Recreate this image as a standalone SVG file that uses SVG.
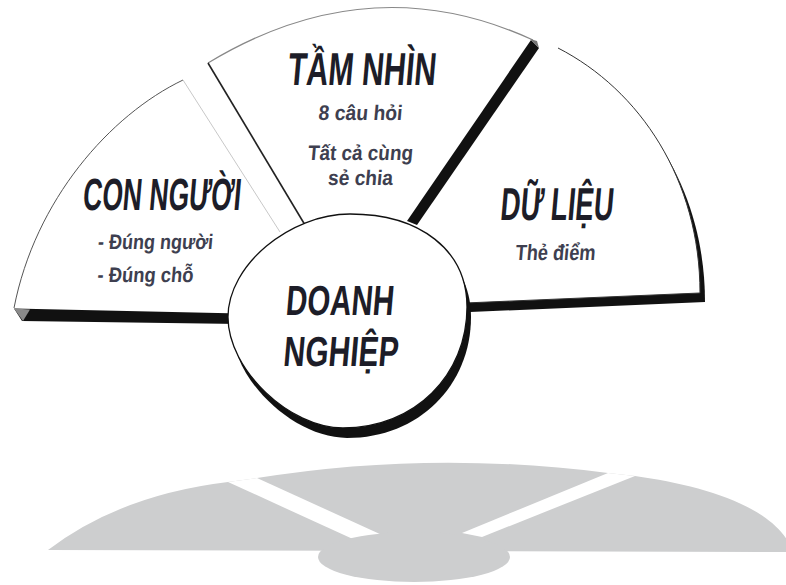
<svg xmlns="http://www.w3.org/2000/svg" width="786" height="585" viewBox="0 0 786 585">
<style>
.t{font-family:"Liberation Sans",Arial,sans-serif;font-weight:bold;fill:#1d1d28;text-anchor:middle}
.s{font-family:"Liberation Sans",Arial,sans-serif;font-weight:bold;fill:#3e3f50;text-anchor:middle}
.w{fill:#fff;stroke:none}
.k{fill:#111}
.g{fill:#cdcecf}
</style>
<defs>
<path id="dl" d="M558,48 C640,90 700,180 700,293 L465,303 L435,235 Z"/>
<path id="dn" d="M350,214 C420,214 467,250 467,307 C467,375 415,428 343,428 C290,428 228,370 228,317 C228,265 290,214 350,214 Z"/>
</defs>
<rect width="786" height="585" fill="#fff"/>
<g id="shadow">
 <path class="g" d="M48,550 Q120,495 228,482 L257,478 Q430,450 608,473 L635,476 C700,485 770,505 790,545 L790,552 L48,550 Z"/>
 <polygon fill="#fff" points="228,482 257,478 382,535 355,540"/>
 <polygon fill="#fff" points="608,473 635,476 482,537 462,533"/>
 <ellipse class="g" cx="414" cy="557" rx="96" ry="25"/>
</g>
<g id="connectors"/>
<g id="node-con-nguoi">
 <path class="w" d="M183,80 C110,115 35,200 14,308 L240,313 L300,290 L280,232 Z"/>
 <polygon class="k" points="14,308.5 240,313.5 240,324 22,321"/>
 <polygon fill="#8a8a8a" points="14,308.5 30,309.5 23,321"/>
 <path d="M183,80 C110,115 35,200 14,308" fill="none" stroke="#555" stroke-width="1"/>
 <path d="M183,80 L280,232" stroke="#c8c8c8" stroke-width="1"/>
 <text class="t" transform="translate(161,210) skewX(-5)" font-size="45" textLength="158" lengthAdjust="spacingAndGlyphs">CON NGƯỜI</text>
 <text class="s" transform="translate(155,249) skewX(-5)" font-size="21" textLength="115" lengthAdjust="spacingAndGlyphs">- Đúng người</text>
 <text class="s" transform="translate(145,282) skewX(-5)" font-size="21" textLength="96" lengthAdjust="spacingAndGlyphs">- Đúng chỗ</text>
</g>
<g id="node-tam-nhin">
 <path class="w" d="M208,63 Q370,-35 533,40 L410,222 L350,250 L308,230 Z"/>
 <path d="M208,63 Q370,-35 533,40" fill="none" stroke="#888" stroke-width="1.2"/>
 <path d="M208,63 L308,230" stroke="#222" stroke-width="1.6"/>
 <polygon class="k" points="531,40 539,48 417,225 407,221"/>
 <polygon fill="#777" points="530,39 537,41 539,48"/>
 <text class="t" transform="translate(361,85) skewX(-5)" font-size="46" textLength="148" lengthAdjust="spacingAndGlyphs">TẦM NHÌN</text>
 <text class="s" transform="translate(360,120) skewX(-5)" font-size="21" textLength="84" lengthAdjust="spacingAndGlyphs">8 câu hỏi</text>
 <text class="s" transform="translate(360,160) skewX(-5)" font-size="21" textLength="105" lengthAdjust="spacingAndGlyphs">Tất cả cùng</text>
 <text class="s" transform="translate(360,185) skewX(-5)" font-size="21" textLength="65" lengthAdjust="spacingAndGlyphs">sẻ chia</text>
</g>
<g id="node-du-lieu">
 <use href="#dl" class="k" transform="translate(5,9)"/>
 <use href="#dl" class="w"/>
 <path d="M558,48 C640,90 700,180 700,293 L465,303" fill="none" stroke="#333" stroke-width="1"/>
 <text class="t" transform="translate(556,220) skewX(-5)" font-size="46" textLength="113" lengthAdjust="spacingAndGlyphs">DỮ LIỆU</text>
 <text class="s" transform="translate(555,260) skewX(-5)" font-size="22" textLength="80" lengthAdjust="spacingAndGlyphs">Thẻ điểm</text>
</g>
<g id="node-doanh-nghiep">
 <use href="#dn" class="k" transform="translate(4,10)"/>
 <use href="#dn" fill="#fff" stroke="#111" stroke-width="1.3"/>
 <text class="t" transform="translate(339,315) skewX(-5)" font-size="42" textLength="108" lengthAdjust="spacingAndGlyphs">DOANH</text>
 <text class="t" transform="translate(340,366) skewX(-5)" font-size="42" textLength="115" lengthAdjust="spacingAndGlyphs">NGHIỆP</text>
</g>
</svg>
